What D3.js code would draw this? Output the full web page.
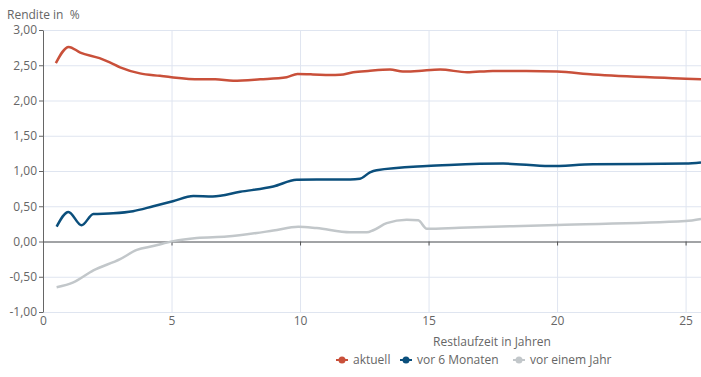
<html>
<head>
  <meta charset="utf-8">
  <script src="https://d3js.org/d3.v7.min.js"></script>
  <style>
    body { margin: 0; background: #fff; }
    text { font-family: "Open Sans", sans-serif; fill: #666; }
    .gridlines line { stroke: #dfe5f0; }
    .gridlines .domain { stroke: none; }
  </style>
</head>
<body>
<svg id="chart" width="701" height="377"></svg>
<script>
  // data
  const seriesNames = ["aktuell", "vor 6 Monaten", "vor einem Jahr"];
  const seriesColors = ["#c9503a", "#0b4f7c", "#c2c7ca"];

  const aktuellYears = [0.5, 1.0, 1.45, 2.2, 2.6, 3.0, 3.77, 4.55, 5.0, 6.1, 6.7, 7.4, 8.45, 9.48, 9.9, 10.5, 11.17, 11.56, 12.07, 12.65, 13.5, 14.0, 14.6, 15.45, 16.5, 17.5, 18.8, 20, 21.4, 25, 25.6];
  const aktuellValues = [2.53, 2.76, 2.68, 2.60, 2.54, 2.47, 2.385, 2.35, 2.33, 2.30, 2.30, 2.28, 2.30, 2.33, 2.375, 2.37, 2.36, 2.365, 2.40, 2.42, 2.44, 2.41, 2.42, 2.44, 2.40, 2.42, 2.42, 2.41, 2.37, 2.31, 2.30];

  const sechsMonateYears = [0.53, 0.99, 1.5, 1.96, 2.73, 3.5, 4.29, 5.05, 5.85, 6.6, 7.67, 8.96, 9.87, 10.65, 11.95, 12.33, 12.72, 12.98, 14.93, 15.8, 17.9, 19.7, 21.4, 25, 25.6];
  const sechsMonateValues = [0.21, 0.42, 0.23, 0.39, 0.40, 0.43, 0.50, 0.57, 0.645, 0.64, 0.705, 0.78, 0.875, 0.88, 0.88, 0.89, 0.98, 1.01, 1.07, 1.085, 1.105, 1.07, 1.095, 1.105, 1.12];

  const einJahrYears = [0.53, 1.18, 1.96, 3.0, 3.65, 4.29, 5.07, 5.98, 7.15, 8.96, 9.93, 10.65, 11.95, 12.6, 12.85, 13.37, 14.15, 14.6, 14.93, 16.2, 20, 25, 25.6];
  const einJahrValues = [-0.65, -0.58, -0.41, -0.25, -0.12, -0.065, 0.005, 0.05, 0.07, 0.155, 0.21, 0.19, 0.13, 0.13, 0.16, 0.26, 0.31, 0.30, 0.18, 0.195, 0.235, 0.29, 0.32];

  const xTicks = [0, 5, 10, 15, 20, 25];
  const yTicks = [-1, -0.5, 0, 0.5, 1, 1.5, 2, 2.5, 3];

  const svg = d3.select("svg#chart");
  const margin = {top: 30, right: 0, bottom: 65, left: 43};
  const width = +svg.attr("width");
  const height = +svg.attr("height");
  const chartWidth = width - margin.left - margin.right;
  const chartHeight = height - margin.top - margin.bottom;

  const xScale = d3.scaleLinear().domain([0, 25.6]).range([0, chartWidth]);
  const yScale = d3.scaleLinear().domain([-1, 3]).range([chartHeight, 0]);
  const fmt = d3.format(".2f");
  const deFormat = d => fmt(d).replace("\u2212", "-").replace(".", ",");

  const chart = svg.append("g").attr("transform", "translate(" + margin.left + "," + margin.top + ")");

  // gridlines
  chart.append("g").attr("class", "y gridlines")
    .call(d3.axisLeft(yScale).tickValues(yTicks).tickSize(-chartWidth).tickFormat(""));
  chart.append("g").attr("class", "x gridlines")
    .call(d3.axisBottom(xScale).tickValues(xTicks.slice(1)).tickSize(chartHeight).tickFormat(""));

  // y axis
  const yAxis = chart.append("g").call(d3.axisLeft(yScale).tickValues(yTicks).tickFormat(deFormat).tickSize(4).tickSizeOuter(0));
  yAxis.select(".domain").attr("stroke", "#666");
  yAxis.selectAll(".tick line").attr("stroke", "#666");
  yAxis.selectAll(".tick text").attr("font-size", 12).attr("x", -6).attr("fill", "#666")
    .style("font-family", "Open Sans");

  // zero line with ticks
  const zeroAxis = chart.append("g").attr("transform", "translate(0," + yScale(0) + ")")
    .call(d3.axisBottom(xScale).tickValues(xTicks.slice(1)).tickSize(4).tickSizeOuter(0).tickFormat(""));
  zeroAxis.select(".domain").attr("stroke", "#555");
  zeroAxis.selectAll(".tick line").attr("stroke", "#555");

  // x tick labels at the bottom
  const xLabels = chart.append("g").attr("transform", "translate(0," + chartHeight + ")")
    .call(d3.axisBottom(xScale).tickValues(xTicks).tickSize(0).tickPadding(4));
  xLabels.select(".domain").remove();
  xLabels.selectAll(".tick text").attr("font-size", 12).attr("fill", "#666").style("font-family", "Open Sans");

  // lines
  const line = d3.line().x(d => xScale(d[0])).y(d => yScale(d[1])).curve(d3.curveMonotoneX);
  const series = [
    d3.zip(einJahrYears, einJahrValues),
    d3.zip(sechsMonateYears, sechsMonateValues),
    d3.zip(aktuellYears, aktuellValues)
  ];
  const seriesCol = [seriesColors[2], seriesColors[1], seriesColors[0]];
  chart.selectAll("path.series").data(series).join("path")
    .attr("class", "series")
    .attr("d", line)
    .attr("fill", "none")
    .attr("stroke", (d, i) => seriesCol[i])
    .attr("stroke-width", 2.5)
    .attr("stroke-linejoin", "round");

  // titles
  svg.append("text").attr("x", 7).attr("y", 19).attr("font-size", 12)
    .attr("xml:space", "preserve").text("Rendite in  %");
  svg.append("text").attr("x", 492).attr("y", 346).attr("font-size", 12)
    .attr("text-anchor", "middle").text("Restlaufzeit in Jahren");

  // legend
  const legendX = [342, 406, 519];
  const legend = svg.append("g").attr("transform", "translate(0,360)");
  const items = legend.selectAll("g.item").data(seriesNames).join("g")
    .attr("class", "item")
    .attr("transform", (d, i) => "translate(" + legendX[i] + ",0)");
  items.append("line").attr("x1", -6).attr("x2", 6).attr("y1", 0).attr("y2", 0)
    .attr("stroke", (d, i) => seriesColors[i]).attr("stroke-width", 2);
  items.append("circle").attr("r", 3.5).attr("fill", (d, i) => seriesColors[i]);
  items.append("text").attr("x", 11).attr("y", 4).attr("font-size", 12).text(d => d);
</script>
</body>
</html>
